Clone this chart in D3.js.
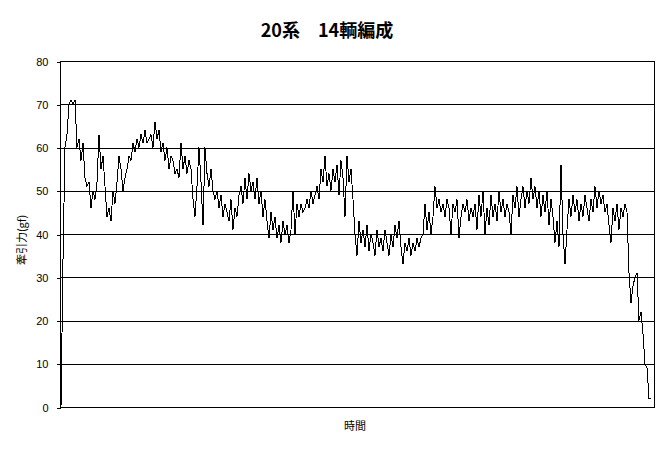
<!DOCTYPE html>
<html><head><meta charset="utf-8">
<script src="https://cdn.jsdelivr.net/npm/d3@7/dist/d3.min.js"></script>
<style>body{margin:0;background:#fff}svg{display:block}</style>
</head><body>
<svg id="c" width="667" height="451"></svg>
<script>
const title = "20系　14輌編成";
const yLabel = "牽引力(gf)";
const xLabel = "時間";
const yTicks = [0,10,20,30,40,50,60,70,80];
const force = [
0,34,60,63,70,71,70,71,60,62,57,61,53,51,52,46,50,48,52,63,
55,58,51,44,46,43,50,47,52,58,55,50,53,55,58,57,61,59,62,60,
63,61,64,61,62,63,60,66,62,64,59,61,57,60,55,58,57,54,55,53,
61,55,58,54,57,55,48,44,51,60,52,42,60,54,51,55,50,48,50,46,
49,44,47,45,43,48,41,46,44,49,51,47,53,48,54,50,52,48,53,47,
50,44,48,43,39,45,41,44,39,42,38,43,40,42,38,41,50,40,47,44,
47,45,46,48,46,50,47,49,51,48,55,52,58,51,54,50,55,52,56,49,
57,53,44,58,52,55,48,40,35,43,38,41,37,42,36,40,38,35,41,37,
39,36,41,38,35,40,37,42,39,43,37,33,38,36,39,35,38,36,39,37,
39,40,47,41,45,40,44,51,46,48,45,47,44,48,46,40,47,45,48,39,
44,47,45,48,43,46,44,47,41,49,44,50,40,46,42,49,44,47,43,50,
45,48,44,47,45,40,49,46,51,44,48,51,46,50,47,53,48,51,46,50,
44,49,45,50,42,48,44,38,43,37,56,40,33,41,48,44,49,45,48,43,
47,44,49,46,43,48,45,51,46,50,47,49,45,47,42,38,46,43,47,41,
46,44,47,45,31,24,28,30,31,20,22,17,10,9,2,2
];

const svg = d3.select("#c");
const L = 60, R = 654, T = 61, B = 407;
const x = d3.scaleLinear().domain([0, force.length - 1]).range([L + 1, R - 3]);
const y = d3.scaleLinear().domain([0, 80]).range([B, T]);

// gridlines
svg.append("g").selectAll("line").data(yTicks.filter(d => d > 0 && d < 80)).join("line")
  .attr("x1", L).attr("x2", R).attr("y1", d => Math.round(y(d)) + 0.5).attr("y2", d => Math.round(y(d)) + 0.5)
  .attr("stroke", "#000").attr("stroke-width", 1).attr("shape-rendering", "crispEdges");

// frame
svg.append("rect").attr("x", L + 0.5).attr("y", T + 0.5).attr("width", R - L).attr("height", B - T)
  .attr("fill", "none").attr("stroke", "#000").attr("shape-rendering", "crispEdges");

// y axis
const yAxis = d3.axisLeft(y).tickValues(yTicks).tickSize(4).tickPadding(8).tickFormat(d3.format("d"));
const gy = svg.append("g").attr("transform", `translate(${L + 0.5},0.5)`).call(yAxis);
gy.select(".domain").remove();
gy.selectAll("text").attr("font-family", "Liberation Sans, Arial, sans-serif").attr("font-size", 11).attr("fill", "#000");
gy.selectAll("line").attr("stroke", "#000").attr("shape-rendering", "crispEdges");

// line
const line = d3.line().x((d, i) => x(i)).y(d => y(d));
svg.append("path").datum(force).attr("d", line).attr("fill", "none").attr("stroke", "#000")
  .attr("stroke-width", 1).attr("shape-rendering", "crispEdges");

// texts
svg.append("text").attr("x", 327).attr("y", 37).attr("text-anchor", "middle")
  .attr("font-family", "Noto Sans CJK JP, sans-serif").attr("font-weight", "bold").attr("font-size", 18).text(title);
svg.append("text").attr("transform", "translate(26,240) rotate(-90)").attr("text-anchor", "middle")
  .attr("font-family", "Noto Sans CJK JP, sans-serif").attr("font-size", 11).text(yLabel);
svg.append("text").attr("x", 355).attr("y", 430).attr("text-anchor", "middle")
  .attr("font-family", "Noto Sans CJK JP, sans-serif").attr("font-size", 11).text(xLabel);
</script>
</body></html>
